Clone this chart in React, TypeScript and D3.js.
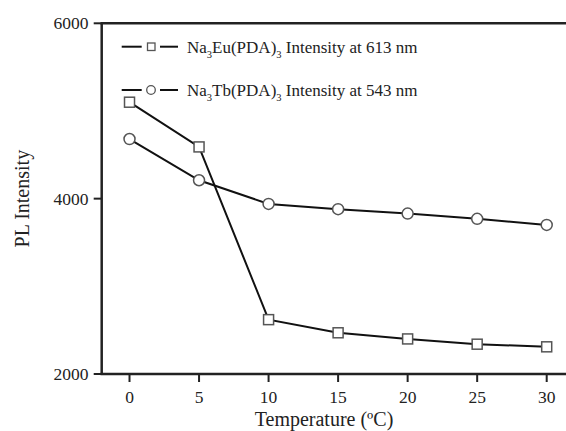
import React from "react";
import * as d3 from "d3";

const temps = [0, 5, 10, 15, 20, 25, 30];
const euValues = [5100, 4590, 2620, 2470, 2400, 2340, 2310];
const tbValues = [4680, 4210, 3940, 3880, 3830, 3770, 3700];
const xTicks = [0, 5, 10, 15, 20, 25, 30];
const yTicks = [2000, 4000, 6000];

const W = 566;
const H = 431;
const FONT = "Liberation Serif, serif";

export default function App() {
  const x = d3.scaleLinear().domain([-2, 30]).range([101.7, 546.7]);
  const y = d3.scaleLinear().domain([2000, 6000]).range([374, 23.3]);
  const line = d3
    .line<number>()
    .x((_, i) => x(temps[i]))
    .y((d) => y(d));

  const left = x(-2);
  const bottom = y(2000);
  const top = y(6000);
  const ts = { fontFamily: FONT };

  return (
    <svg
      width={W}
      height={H}
      style={{ position: "absolute", left: 0, top: 0, background: "#fff" }}
    >
      <rect width={W} height={H} fill="#fff" />
      <path d={line(euValues) || ""} fill="none" stroke="#111" strokeWidth={2} />
      <path d={line(tbValues) || ""} fill="none" stroke="#111" strokeWidth={2} />
      {euValues.map((v, i) => (
        <rect
          key={"eu" + i}
          x={x(temps[i]) - 5}
          y={y(v) - 5}
          width={10}
          height={10}
          fill="#fff"
          stroke="#555"
          strokeWidth={1.5}
        />
      ))}
      {tbValues.map((v, i) => (
        <circle
          key={"tb" + i}
          cx={x(temps[i])}
          cy={y(v)}
          r={5.5}
          fill="#fff"
          stroke="#555"
          strokeWidth={1.5}
        />
      ))}
      <line x1={left} x2={left} y1={top} y2={bottom} stroke="#222" strokeWidth={2.5} />
      <line x1={left - 1.2} x2={W} y1={bottom} y2={bottom} stroke="#222" strokeWidth={2.5} />
      <line x1={left - 1.2} x2={W} y1={top} y2={top} stroke="#222" strokeWidth={2.5} />
      {yTicks.map((t) => (
        <g key={"y" + t}>
          <line x1={left - 8} x2={left} y1={y(t)} y2={y(t)} stroke="#222" strokeWidth={2} />
          <text x={88.5} y={y(t)} dy="0.35em" textAnchor="end" fontSize={17.5} fill="#222" style={ts}>
            {t}
          </text>
        </g>
      ))}
      {xTicks.map((t) => (
        <g key={"x" + t}>
          <line x1={x(t)} x2={x(t)} y1={bottom} y2={bottom + 8} stroke="#222" strokeWidth={2} />
          <text x={x(t)} y={bottom + 23} dy="0.35em" textAnchor="middle" fontSize={17.5} fill="#222" style={ts}>
            {t}
          </text>
        </g>
      ))}
      <text x={324} y={419} textAnchor="middle" dy="0.35em" fontSize={20} fill="#222" style={ts}>
        Temperature (ºC)
      </text>
      <text
        transform={`translate(22, ${y(4000)}) rotate(-90)`}
        textAnchor="middle"
        dy="0.35em"
        fontSize={20}
        fill="#222"
        style={ts}
      >
        PL Intensity
      </text>
      <g>
        <line x1={121.7} x2={141.7} y1={46.7} y2={46.7} stroke="#111" strokeWidth={2} />
        <rect x={147.5} y={43} width={7.5} height={7.5} fill="#fff" stroke="#555" strokeWidth={1.3} />
        <line x1={160} x2={178} y1={46.7} y2={46.7} stroke="#111" strokeWidth={2} />
        <text x={187} y={46.7} dy="0.35em" fontSize={17} fill="#222" style={ts}>
          Na<tspan fontSize={10.5} dy={5}>3</tspan>
          <tspan dy={-5}>Eu(PDA)</tspan>
          <tspan fontSize={10.5} dy={5}>3</tspan>
          <tspan dy={-5}> Intensity at 613 nm</tspan>
        </text>
        <line x1={121.7} x2={141.7} y1={90} y2={90} stroke="#111" strokeWidth={2} />
        <circle cx={151} cy={90} r={4.3} fill="#fff" stroke="#555" strokeWidth={1.3} />
        <line x1={160} x2={178} y1={90} y2={90} stroke="#111" strokeWidth={2} />
        <text x={187} y={90} dy="0.35em" fontSize={17} fill="#222" style={ts}>
          Na<tspan fontSize={10.5} dy={5}>3</tspan>
          <tspan dy={-5}>Tb(PDA)</tspan>
          <tspan fontSize={10.5} dy={5}>3</tspan>
          <tspan dy={-5}> Intensity at 543 nm</tspan>
        </text>
      </g>
    </svg>
  );
}
